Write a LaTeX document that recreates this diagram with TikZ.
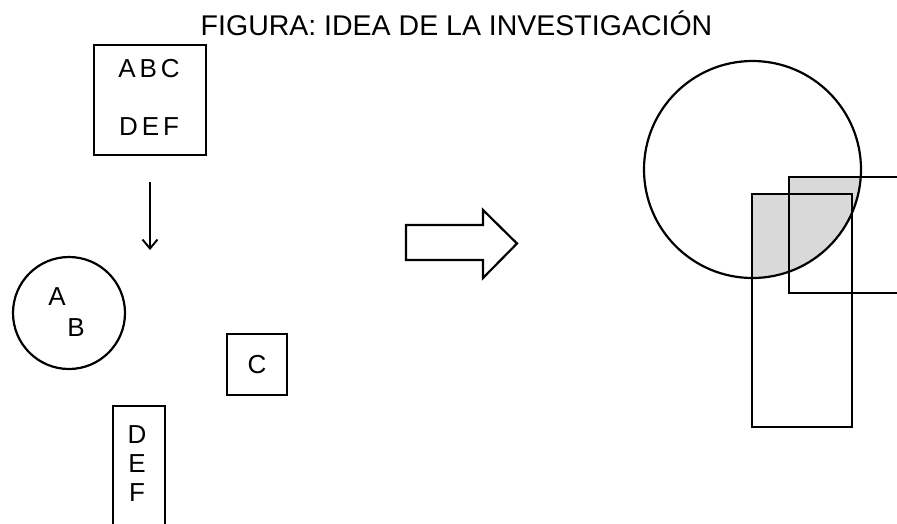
\documentclass[tikz,border=0pt]{standalone}
\usepackage{fontspec}
\setmainfont{Liberation Sans}
\usetikzlibrary{arrows.meta}
\begin{document}
\begin{tikzpicture}[x=1pt,y=-1pt,
  line width=2.2pt,
  lbl/.style={inner sep=0pt,font=\fontsize{26}{30}\selectfont},
  boxshape/.style={draw,inner sep=0pt,line width=2.2pt}]
\clip (0,0) rectangle (897,523);
% title
\node[inner sep=0pt,font=\fontsize{28.5}{32}\selectfont] (title) at (456.5,23) {FIGURA: IDEA DE LA INVESTIGACIÓN};
% top box
\node[boxshape,minimum width=112pt,minimum height=110pt] (top) at (150,100) {};
\node[lbl] (abc) at (149,69) {A\hspace{4pt}B\hspace{4pt}C};
\node[lbl] (def) at (149,127) {D\hspace{4pt}E\hspace{4pt}F};
% down arrow
\coordinate (a1) at (150,182);
\coordinate (a2) at (150,250);
\draw[line width=1.9pt,-{Straight Barb[length=9pt,width=15pt,line width=1.9pt]}] (a1) -- (a2);
% circle AB
\node[boxshape,circle,minimum size=112pt] (circ) at (69,313) {};
\node[lbl] (la) at (57,297) {A};
\node[lbl] (lb) at (76,328) {B};
% C box
\node[boxshape,minimum width=60pt,minimum height=61pt] (cbox) at (257,364.5) {};
\node[lbl] (lc) at (257,365) {C};
% DEF vertical box (open at bottom edge)
\node[boxshape,minimum width=52pt,minimum height=160pt] (vbox) at (139,486) {};
\node[lbl] (ld) at (137,435) {D};
\node[lbl] (le) at (137,464) {E};
\node[lbl] (lf) at (137,493) {F};
% big arrow
\draw[line join=miter] (406,225) -- (483,225) -- (483,210) -- (517,243.5) -- (483,278) -- (483,260) -- (406,260) -- cycle;
% right: gray intersection
\begin{scope}
  \clip (752.5,169.5) circle (108.5pt);
  \fill[black!15] (752,194) rectangle (852,427);
  \fill[black!15] (789,177) rectangle (950,293);
\end{scope}
\node[boxshape,circle,minimum size=217pt] (bigc) at (752.5,169.5) {};
\node[boxshape,minimum width=100pt,minimum height=233pt] (r1) at (802,310.5) {};
\node[boxshape,minimum width=200pt,minimum height=116pt] (r2) at (889,235) {};
\end{tikzpicture}
\end{document}
